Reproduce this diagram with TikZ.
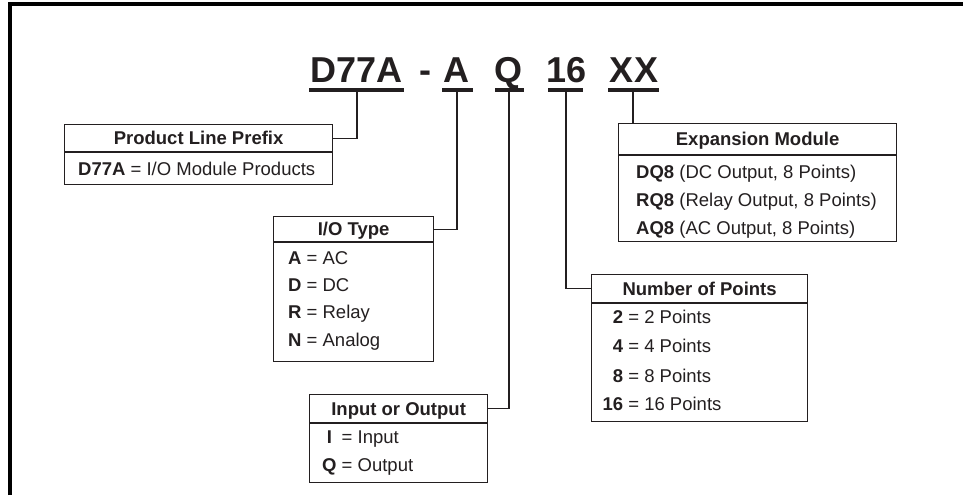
\documentclass[tikz,border=0pt]{standalone}
\usepackage{fontspec}
\setmainfont{Liberation Sans}
\definecolor{ink}{HTML}{231F20}
\begin{document}
\begin{tikzpicture}[x=1pt,y=-1pt,
  frame/.style={line width=4pt,black},
  box/.style={draw=ink,line width=1.2pt,inner sep=0pt,anchor=north west},
  hdr/.style={box,font=\fontsize{18.5}{20}\selectfont\bfseries,text=ink,
    text height=13.3pt,text depth=0pt},
  row/.style={inner sep=0pt,anchor=base west,text=ink,
    font=\fontsize{18.5}{20}\selectfont},
  code/.style={inner sep=0pt,anchor=base,text=ink,
    font=\fontsize{36}{38}\selectfont\bfseries},
  bar/.style={line width=3.2pt,ink},
  wire/.style={line width=1.2pt,ink}]
\useasboundingbox (0,0) rectangle (963,495);

% outer frame (top and left edges)
\draw[frame] (9.5,495) -- (9.5,4) -- (963,4);

% part number segments
\node[code] (tD)    at (356.5,82) {D77A};
\node[code] (tdash) at (425,82)   {-};
\node[code] (tA)    at (456.5,82) {A};
\node[code] (tQ)    at (508.5,82) {Q};
\node[code] (t16)   at (566.5,82) {16};
\node[code] (tXX)   at (634,82)   {XX};

% underline anchors
\coordinate (cD)  at (357,90);
\coordinate (cA)  at (457,90);
\coordinate (cQ)  at (509,90);
\coordinate (c16) at (566,90);
\coordinate (cXX) at (633,90);
\draw[bar] (309,90) -- (404,90);
\draw[bar] (442,90) -- (473,90);
\draw[bar] (495,90) -- (524,90);
\draw[bar] (548,90) -- (583,90);
\draw[bar] (608,90) -- (659,90);

% Product line prefix
\node[hdr,minimum width=268pt,minimum height=27pt] (ph) at (64,124) {Product Line Prefix};
\node[box,minimum width=268pt,minimum height=32pt] (pb) at (ph.south west) {};
\node[row] (p1) at (78,175.6) {\textbf{D77A} = I/O Module Products};

% I/O type
\node[hdr,minimum width=160pt,minimum height=25pt] (ih) at (273,216) {I/O Type};
\node[box,minimum width=160pt,minimum height=119pt] (ib) at (ih.south west) {};
\node[row] (i1) at (288,264.6) {\textbf{A} = AC};
\node[row] (i2) at (288,291.6) {\textbf{D} = DC};
\node[row] (i3) at (288,318.6) {\textbf{R} = Relay};
\node[row] (i4) at (288,346.6) {\textbf{N} = Analog};

% Input or output
\node[hdr,minimum width=178pt,minimum height=28pt] (oh) at (309,394) {Input or Output};
\node[box,minimum width=178pt,minimum height=59pt] (ob) at (oh.south west) {};
\node[row] (o1) at (322,443.6) {\makebox[14.4pt][c]{\textbf{I}} = Input};
\node[row] (o2) at (322,471.6) {\textbf{Q} = Output};

% Number of points
\node[hdr,minimum width=216pt,minimum height=28pt] (nh) at (591,274) {Number of Points};
\node[box,minimum width=216pt,minimum height=118pt] (nb) at (nh.south west) {};
\node[row] (n1) at (603,323.6) {\makebox[20pt][r]{\textbf{2}} = 2 Points};
\node[row] (n2) at (603,352.6) {\makebox[20pt][r]{\textbf{4}} = 4 Points};
\node[row] (n3) at (603,382.6) {\makebox[20pt][r]{\textbf{8}} = 8 Points};
\node[row] (n4) at (603,410.6) {\makebox[20pt][r]{\textbf{16}} = 16 Points};

% Expansion module
\node[hdr,minimum width=278pt,minimum height=31pt] (eh) at (618,123) {Expansion Module};
\node[box,minimum width=278pt,minimum height=86pt] (eb) at (eh.south west) {};
\node[row] (e1) at (636,178.6) {\textbf{DQ8} (DC Output, 8 Points)};
\node[row] (e2) at (636,206.6) {\textbf{RQ8} (Relay Output, 8 Points)};
\node[row] (e3) at (636,234.6) {\textbf{AQ8} (AC Output, 8 Points)};

% leaders from the part number to the boxes
\draw[wire] (cD)  |- (ph.east);
\draw[wire] (cA)  |- (ih.east);
\draw[wire] (cQ)  |- (oh.east);
\draw[wire] (c16) |- (nh.west);
\draw[wire] (cXX) -- (cXX |- eh.north);
\end{tikzpicture}
\end{document}
